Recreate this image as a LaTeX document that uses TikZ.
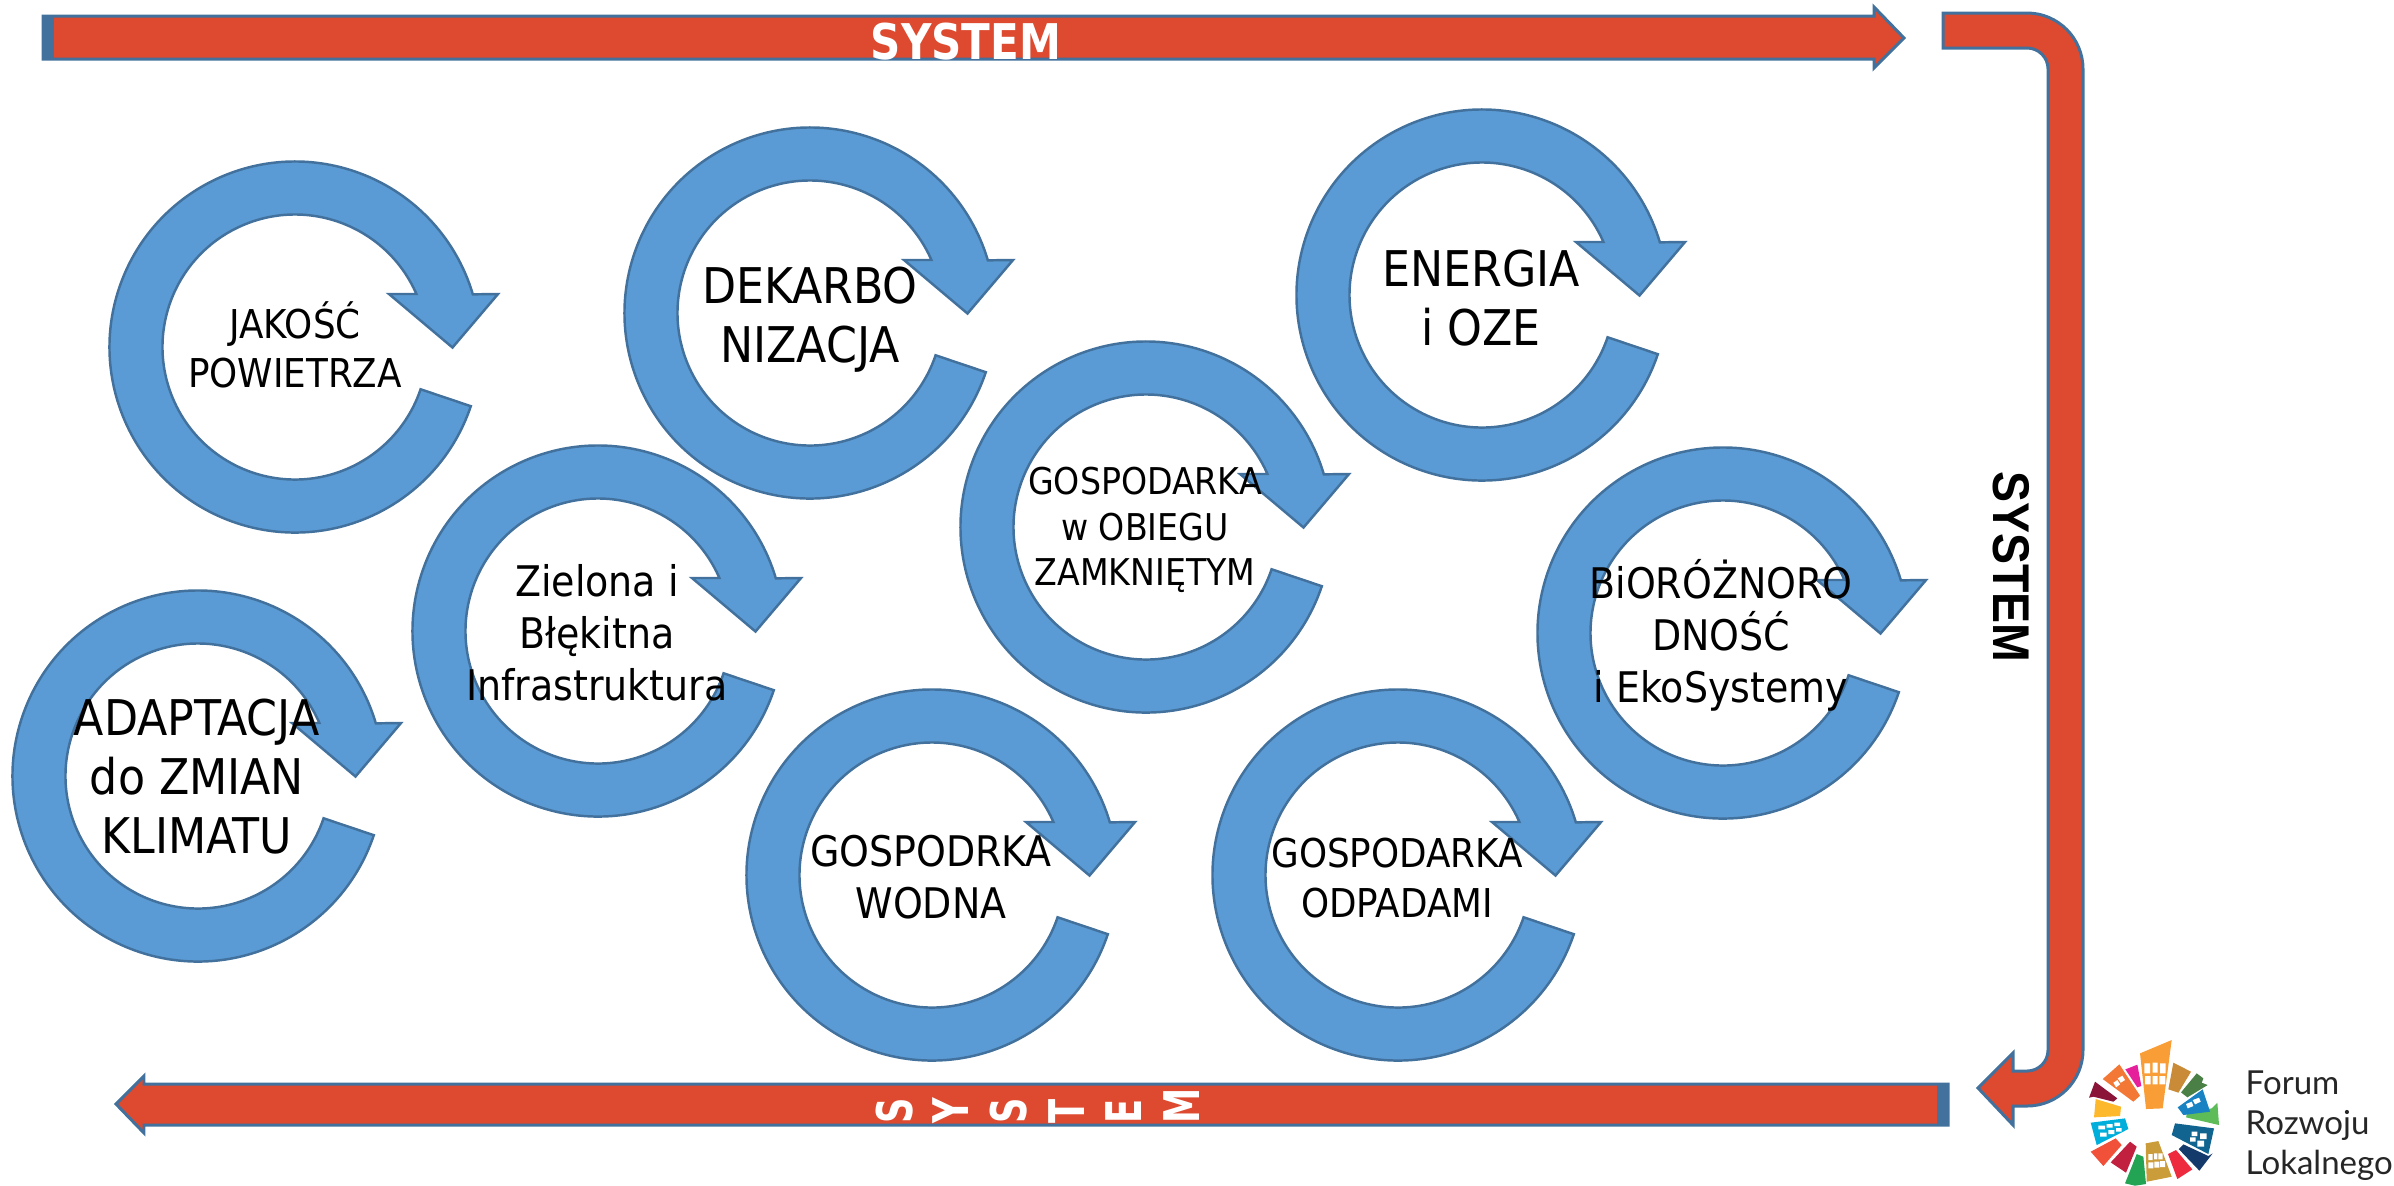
\documentclass[tikz,border=0pt]{standalone}
\usepackage{fontspec}
\setmainfont{DejaVu Sans Condensed}
\newfontfamily\sysfont{Liberation Sans}
\newfontfamily\logofont{Lato}
\usetikzlibrary{positioning}
\definecolor{cycblue}{HTML}{5B9BD5}
\definecolor{edgeblue}{HTML}{41719C}
\definecolor{sysred}{HTML}{DD4A2F}
\definecolor{lgorange}{HTML}{F99D36}
\definecolor{lgmagenta}{HTML}{E5209A}
\definecolor{lgdorange}{HTML}{F47835}
\definecolor{lgmaroon}{HTML}{8A1538}
\definecolor{lgyellow}{HTML}{FDB92B}
\definecolor{lgcyan}{HTML}{00AEDB}
\definecolor{lgcoral}{HTML}{F05138}
\definecolor{lgcrimson}{HTML}{C1203F}
\definecolor{lggreen}{HTML}{23A455}
\definecolor{lggold}{HTML}{CB9C3A}
\definecolor{lgred}{HTML}{EE2A3E}
\definecolor{lgnavy}{HTML}{133A6B}
\definecolor{lgteal}{HTML}{10648F}
\definecolor{lglime}{HTML}{5DBB58}
\definecolor{lgblue}{HTML}{1882C3}
\definecolor{lgdgreen}{HTML}{4A7F46}
\definecolor{lgochre}{HTML}{C98B37}
\tikzset{
  cyclearrow/.pic={
    \draw[fill=cycblue,draw=edgeblue,line width=0.7pt] (-18.6:1.855) arc[start angle=-18.6,end angle=-343.5,radius=1.855]
      -- (2.03,0.53) -- (1.575,-0.005) -- (0.94,0.53) -- (23.6:1.325)
      arc[start angle=23.6,end angle=341.4,radius=1.325] -- cycle;
  },
  cyctext/.style={align=center,inner sep=0pt,text=black},
  small/.style={cyctext,font=\fontsize{10.5}{12.9}\selectfont},
  low/.style={cyctext,font=\fontsize{11.3}{14}\selectfont},
  mid/.style={cyctext,font=\fontsize{12}{14.8}\selectfont},
  big/.style={cyctext,font=\fontsize{14}{16.8}\selectfont},
  systext/.style={font=\bfseries\fontsize{14}{16}\selectfont,inner sep=0pt,xscale=.95,transform shape},
  sysbar/.style={fill=sysred,draw=edgeblue,line width=0.85pt}
}
\begin{document}
\begin{tikzpicture}
\useasboundingbox (0,0) rectangle (23.94,-11.85);
% top bar
\path[sysbar] (0.43,-0.16) -- (18.74,-0.16) -- (18.74,-0.07) -- (19.04,-0.38) -- (18.74,-0.68) -- (18.74,-0.59) -- (0.43,-0.59) -- cycle;
\fill[edgeblue] (0.43,-0.15) rectangle (0.54,-0.60);
\path node[systext,white,anchor=south] (systop) at (9.66,-0.61) {SYSTEM};

% right bent arrow
\path[sysbar] (19.43,-0.13) -- (20.27,-0.13) arc[start angle=90,end angle=0,radius=0.56]
  -- (20.83,-10.50) arc[start angle=0,end angle=-90,radius=0.56]
  -- (20.13,-11.06) -- (20.13,-11.25) -- (19.78,-10.88) -- (20.13,-10.53) -- (20.13,-10.71)
  -- (20.27,-10.71) arc[start angle=-90,end angle=0,radius=0.21]
  -- (20.48,-0.69) arc[start angle=0,end angle=90,radius=0.21] -- (19.43,-0.48) -- cycle;
\path node[rotate=-90,font=\sysfont\bfseries\fontsize{14.7}{16}\selectfont,inner sep=0pt,xscale=.9,transform shape,text=black] (sysright) at (20.115,-5.67) {SYSTEM};

% bottom bar
\path[sysbar] (19.48,-10.84) -- (1.44,-10.84) -- (1.44,-10.76) -- (1.16,-11.04) -- (1.44,-11.33) -- (1.44,-11.25) -- (19.48,-11.25) -- cycle;
\fill[edgeblue] (19.37,-10.83) rectangle (19.48,-11.26);
\foreach \xpos/\ltr [count=\i] in {8.95/S,9.51/Y,10.09/S,10.67/T,11.24/E,11.82/M}
  \path node[rotate=90,systext,xscale=.84,white,anchor=west] (sysb\i) at (\xpos,-11.245) {\ltr};

% loops
\pic at (2.95,-3.47) {cyclearrow};
\pic at (8.10,-3.13) {cyclearrow};
\pic at (14.82,-2.95) {cyclearrow};
\pic at (11.46,-5.27) {cyclearrow};
\pic at (5.98,-6.31) {cyclearrow};
\pic at (1.98,-7.76) {cyclearrow};
\pic at (9.32,-8.75) {cyclearrow};
\pic at (13.98,-8.75) {cyclearrow};
\pic at (17.23,-6.33) {cyclearrow};

\path node[low] (jakosc) at (2.95,-3.45) {JAKOŚĆ\\POWIETRZA};
\path node[big] (dekarb) at (8.10,-3.20) {DEKARBO\\NIZACJA};
\path node[big] (energia) at (14.81,-2.98) {ENERGIA\\i OZE};
\path node[small] (obieg) at (11.45,-5.30) {GOSPODARKA\\w OBIEGU\\ZAMKNIĘTYM};
\path node[mid] (ziel) at (5.97,-6.33) {Zielona i\\Błękitna\\Infrastruktura};
\path node[big] (adapt) at (1.97,-7.77) {ADAPTACJA\\do ZMIAN\\KLIMATU};
\path node[mid] (wodna) at (9.31,-8.77) {GOSPODRKA\\WODNA};
\path node[low] (odpad) at (13.97,-8.78) {GOSPODARKA\\ODPADAMI};
\path node[mid] (bio) at (17.21,-6.35) {BiORÓŻNORO\\DNOŚĆ\\i EkoSystemy};

% logo
\begin{scope}[shift={(20.80,-10.30)},x=0.033333mm,y=-0.033333mm]
\fill[lgorange] (180,70) -- (275,30) -- (248,235) -- (198,237) -- cycle;
\fill[lgmagenta] (136,118) -- (172,104) -- (184,168) -- (172,172) -- cycle;
\fill[lgdorange] (68,147) -- (118,103) -- (180,197) -- (160,215) -- cycle;
\fill[lgmaroon] (45,155) -- (112,205) -- (100,215) -- (40,200) -- (27,203) -- cycle;
\fill[lgyellow] (47,207) -- (123,230) -- (120,258) -- (42,262) -- cycle;
\fill[lgcyan] (32,278) -- (135,265) -- (145,297) -- (50,345) -- cycle;
\fill[lgcoral] (32,365) -- (107,325) -- (125,345) -- (70,408) -- cycle;
\fill[lgcrimson] (92,397) -- (150,335) -- (170,350) -- (138,428) -- cycle;
\fill[lggreen] (135,460) -- (170,372) -- (190,380) -- (198,462) -- (165,467) -- cycle;
\fill[lggold] (197,340) -- (235,333) -- (275,440) -- (200,455) -- cycle;
\fill[lgred] (264,372) -- (288,360) -- (337,418) -- (292,447) -- cycle;
\fill[lgnavy] (310,343) -- (385,378) -- (398,370) -- (358,422) -- (296,357) -- cycle;
\fill[lgteal] (285,280) -- (402,295) -- (385,372) -- (275,315) -- cycle;
\fill[lglime] (395,235) -- (412,218) -- (417,285) -- (318,262) -- (322,245) -- cycle;
\fill[lgblue] (293,232) -- (368,178) -- (390,245) -- (310,255) -- cycle;
\fill[lgdgreen] (303,187) -- (350,130) -- (370,145) -- (365,158) -- (383,165) -- (322,202) -- cycle;
\fill[lgochre] (280,98) -- (333,125) -- (295,188) -- (265,178) -- cycle;
% windows
\fill[white] (193,100) rectangle (210,130) (218,98) rectangle (233,128) (240,100) rectangle (257,130)
  (195,138) rectangle (212,163) (218,138) rectangle (233,163) (238,138) rectangle (256,163);
\fill[white] (100,158) -- (112,150) -- (120,163) -- (108,172) -- cycle (113,145) -- (127,137) -- (135,150) -- (122,158) -- cycle;
\fill[white] (55,287) rectangle (75,298) (80,282) rectangle (98,293) (103,278) rectangle (120,288)
  (60,308) rectangle (80,320) (85,300) rectangle (103,312) (108,294) rectangle (125,305);
\fill[white] (205,372) rectangle (218,390) (222,370) rectangle (232,388) (235,370) rectangle (248,388)
  (205,397) rectangle (220,415) (223,395) rectangle (238,413) (240,393) rectangle (255,411);
\fill[white] (335,305) rectangle (352,318) (360,310) rectangle (380,327) (330,322) rectangle (347,335) (352,332) rectangle (372,350);
\fill[white] (318,222) -- (335,215) -- (340,228) -- (323,235) -- cycle (338,210) -- (357,203) -- (362,215) -- (345,223) -- cycle;
\end{scope}
\path node[font=\logofont\fontsize{9.4}{11.4}\selectfont,align=left,inner sep=0pt,anchor=west,text=black!85] (forum) at (22.45,-11.26) {Forum\\Rozwoju\\Lokalnego};
\end{tikzpicture}
\end{document}
